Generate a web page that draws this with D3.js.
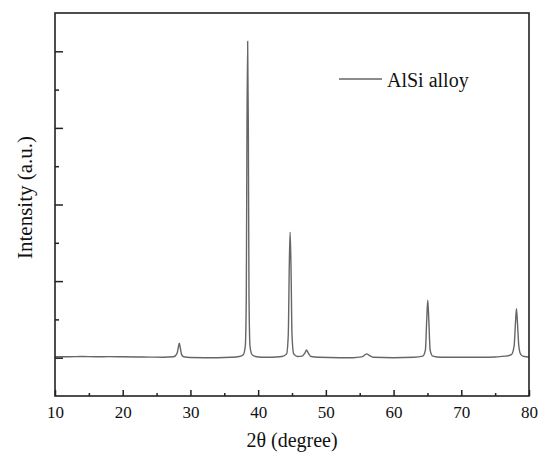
<!DOCTYPE html>
<html>
<head>
<meta charset="utf-8">
<script src="https://cdn.jsdelivr.net/npm/d3@7/dist/d3.min.js"></script>
<style>
  body { margin: 0; background: #fff; }
  svg { display: block; }
</style>
</head>
<body>
<svg id="chart" width="539" height="452" font-family="Liberation Serif"></svg>
<script>
// XRD pattern (2θ in degrees, intensity in arbitrary units)
const twoTheta = [
  10, 12, 14, 16, 18, 20, 22, 24, 26, 27.5,
  28.0, 28.2, 28.35, 28.5, 28.7, 29.0, 30, 32, 34, 36,
  37.2, 37.8, 38.1, 38.25, 38.35, 38.45, 38.55, 38.65, 38.8, 39.1,
  39.6, 40.5, 42, 43.5, 44.2, 44.45, 44.6, 44.72, 44.85, 45.0,
  45.25, 45.8, 46.5, 46.9, 47.15, 47.4, 47.8, 49, 52, 54,
  55.3, 55.8, 56.05, 56.4, 57, 60, 63, 64.3, 64.7, 64.9,
  65.05, 65.2, 65.4, 65.8, 67, 70, 73, 75, 76.5, 77.4,
  77.8, 78.0, 78.15, 78.3, 78.5, 78.8, 79.3, 80
];
const intensity = [
  0.012, 0.012, 0.016, 0.012, 0.014, 0.012, 0.01, 0.008, 0.006, 0.012,
  0.05, 0.13, 0.19, 0.13, 0.04, 0.012, 0.002, 0.0, 0.0, 0.005,
  0.015, 0.04, 0.15, 0.8, 3.0, 4.13, 3.0, 0.8, 0.15, 0.04,
  0.015, 0.005, 0.005, 0.015, 0.05, 0.3, 1.2, 1.64, 1.2, 0.3,
  0.05, 0.015, 0.02, 0.06, 0.10, 0.06, 0.015, 0.005, 0.0, 0.0,
  0.01, 0.04, 0.05, 0.03, 0.005, 0.0, 0.005, 0.02, 0.1, 0.5,
  0.75, 0.5, 0.1, 0.02, 0.005, 0.005, 0.005, 0.01, 0.02, 0.04,
  0.15, 0.45, 0.64, 0.45, 0.15, 0.04, 0.015, 0.01
];
const seriesName = 'AlSi alloy';
const xTickValues = [10, 20, 30, 40, 50, 60, 70, 80];
const xMinorTicks = [15, 25, 35, 45, 55, 65, 75];
const yMajorTicks = [0, 1, 2, 3, 4];
const yMinorTicks = [0.5, 1.5, 2.5, 3.5];

const data = twoTheta.map((t, i) => ({ t, v: intensity[i] }));

const width = 539;
const height = 452;
const margin = { top: 13, right: 10, bottom: 56, left: 55 };
const innerWidth = width - margin.left - margin.right;
const innerHeight = height - margin.top - margin.bottom;

const font = 'Liberation Serif';
const axisColor = '#222';
const lineColor = '#666';

const svg = d3.select('#chart');
const g = svg.append('g')
  .attr('transform', `translate(${margin.left},${margin.top})`);

const xScale = d3.scaleLinear().domain([10, 80]).range([0, innerWidth]);
const yScale = d3.scaleLinear().domain([-0.5, 4.5]).range([innerHeight, 0]);

// data line
const line = d3.line()
  .x(d => xScale(d.t))
  .y(d => yScale(d.v))
  .curve(d3.curveMonotoneX);

g.append('path')
  .datum(data)
  .attr('fill', 'none')
  .attr('stroke', lineColor)
  .attr('stroke-width', 1.4)
  .attr('d', line);

// x axis, ticks pointing inward
const xAxis = g.append('g')
  .attr('class', 'x-axis')
  .attr('transform', `translate(0,${innerHeight})`)
  .call(d3.axisBottom(xScale).tickValues(xTickValues).tickSizeInner(-6).tickSizeOuter(0).tickPadding(10));
xAxis.attr('font-family', font).attr('font-size', 17);
xAxis.select('.domain').remove();
xAxis.selectAll('.tick line').attr('stroke', axisColor).attr('stroke-width', 1.5);
xAxis.selectAll('text').attr('fill', '#111');

g.append('g')
  .attr('transform', `translate(0,${innerHeight})`)
  .call(d3.axisBottom(xScale).tickValues(xMinorTicks).tickSizeInner(-3).tickSizeOuter(0).tickFormat(''))
  .call(a => a.select('.domain').remove())
  .selectAll('.tick line').attr('stroke', axisColor).attr('stroke-width', 1.5);

// y axis, no labels
g.append('g')
  .call(d3.axisLeft(yScale).tickValues(yMajorTicks).tickSizeInner(-8).tickSizeOuter(0).tickFormat(''))
  .call(a => a.select('.domain').remove())
  .selectAll('.tick line').attr('stroke', axisColor).attr('stroke-width', 1.5);

g.append('g')
  .call(d3.axisLeft(yScale).tickValues(yMinorTicks).tickSizeInner(-4).tickSizeOuter(0).tickFormat(''))
  .call(a => a.select('.domain').remove())
  .selectAll('.tick line').attr('stroke', axisColor).attr('stroke-width', 1.5);

// frame
g.append('rect')
  .attr('width', innerWidth)
  .attr('height', innerHeight)
  .attr('fill', 'none')
  .attr('stroke', axisColor)
  .attr('stroke-width', 1.6);

// axis titles
svg.append('text')
  .attr('x', margin.left + innerWidth / 2)
  .attr('y', 447)
  .attr('text-anchor', 'middle')
  .attr('fill', '#111')
  .attr('font-family', font)
  .attr('font-size', 20)
  .text('2θ (degree)');

svg.append('text')
  .attr('transform', `translate(32,${margin.top + innerHeight / 2 - 7}) rotate(-90)`)
  .attr('text-anchor', 'middle')
  .attr('fill', '#111')
  .attr('font-family', font)
  .attr('font-size', 21)
  .text('Intensity (a.u.)');

// legend
const legend = svg.append('g').attr('transform', 'translate(339,79)');
legend.append('line')
  .attr('x1', 0).attr('x2', 43)
  .attr('y1', 0).attr('y2', 0)
  .attr('stroke', lineColor)
  .attr('stroke-width', 1.4);
legend.append('text')
  .attr('x', 48)
  .attr('y', 8)
  .attr('fill', '#111')
  .attr('font-family', font)
  .attr('font-size', 20)
  .text(seriesName);
</script>
</body>
</html>
